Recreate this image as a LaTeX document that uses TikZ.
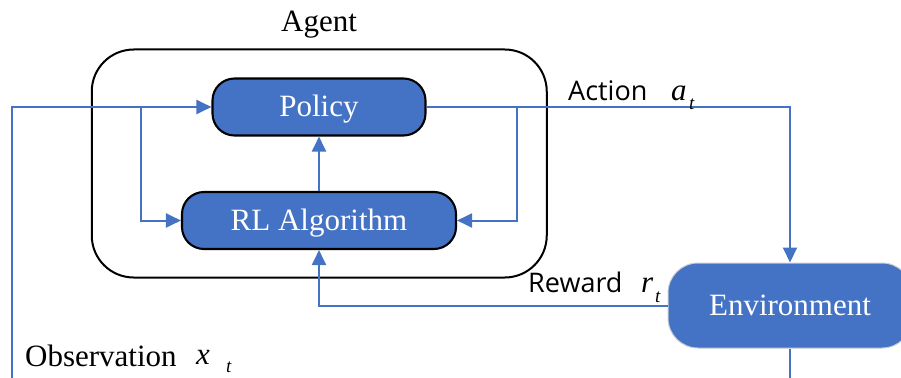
\documentclass[tikz,border=0pt]{standalone}
\usepackage{fontspec}
\setmainfont{Liberation Serif}
\newfontfamily\labelsans{Open Sans}
\usetikzlibrary{arrows.meta}
\definecolor{rlblue}{HTML}{4472C4}
\definecolor{envedge}{HTML}{C8CCD4}
\tikzset{
  block/.style={draw=black, line width=2.1pt, fill=rlblue, text=white,
    rounded corners=22pt, inner sep=0pt, minimum height=57pt,
    text height=20pt, text depth=0pt, font=\fontsize{31}{31}\selectfont},
  conn/.style={draw=rlblue, line width=2pt, -{Triangle[length=15pt,width=14pt]}},
  plainconn/.style={draw=rlblue, line width=2pt},
  sanslbl/.style={inner sep=0pt, anchor=base west, font=\labelsans\fontsize{27}{27}\selectfont},
  seriflbl/.style={inner sep=0pt, anchor=base west, font=\fontsize{31}{31}\selectfont},
  mathlbl/.style={inner sep=0pt, anchor=base west, font=\fontsize{31}{31}\selectfont\itshape},
  sublbl/.style={inner sep=0pt, anchor=base west, font=\fontsize{19}{19}\selectfont\itshape}
}
\begin{document}
\begin{tikzpicture}[x=1pt,y=-1pt]
\useasboundingbox (0,0) rectangle (901,377);
% Agent container
\node[draw=black, line width=2pt, rounded corners=42pt, minimum width=455pt,
      minimum height=228pt, inner sep=0pt] (agent) at (319.25,163.5) {};
\node[inner sep=0pt, anchor=base, font=\fontsize{31}{31}\selectfont] (agentlbl) at (319,32) {Agent};
% blocks
\node[block, minimum width=213pt] (policy) at (319,107) {Policy};
\node[block, minimum width=274pt] (rl) at (319,220.5) {RL Algorithm};
\node[block, draw=envedge, line width=1pt, rounded corners=30pt, minimum width=244pt,
      minimum height=85pt] (env) at (790,305.5) {Environment};
% coordinates
\coordinate (obsbot) at (12,380);
\coordinate (envbot) at (790,380);
\coordinate (bl) at (141,107);
\coordinate (br) at (517,107);
% connectors
\draw[conn] (obsbot) |- (policy.west);
\draw[conn] (bl) |- (rl.west);
\draw[conn] (policy.east) -| (env.north);
\draw[conn] (br) |- (rl.east);
\draw[conn] (rl.north) -- (policy.south);
\draw[conn] (env.west) -| (rl.south);
\draw[plainconn] (env.south) -- (envbot);
% labels
\node[sanslbl] (actlbl) at (568,100) {Action};
\node[mathlbl] (avar) at (671,100) {a};
\node[sublbl] (asub) at (689,110) {t};
\node[sanslbl] (rewlbl) at (528,292) {Reward};
\node[mathlbl] (rvar) at (641,292) {r};
\node[sublbl] (rsub) at (655,302) {t};
\node[seriflbl] (obslbl) at (25,366) {Observation};
\node[mathlbl] (xvar) at (196,364) {x};
\node[sublbl] (xsub) at (226,372) {t};
\end{tikzpicture}
\end{document}
